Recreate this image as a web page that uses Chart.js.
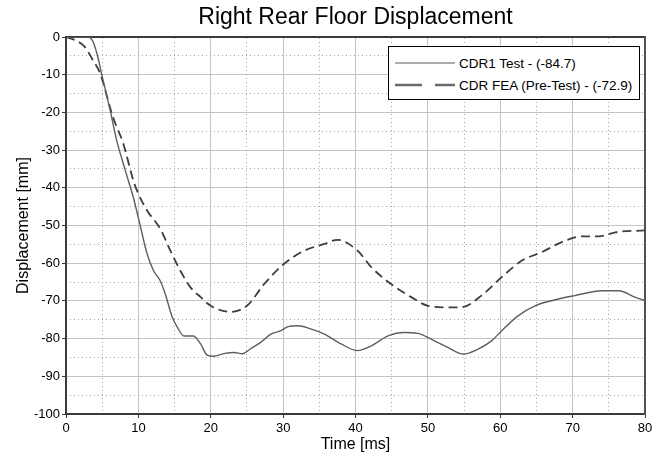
<!DOCTYPE html>
<html>
<head>
<meta charset="utf-8">
<script src="https://cdn.jsdelivr.net/npm/chart.js@4"></script>
<style>
    body { margin: 0; background: #fff; }
    #wrap { position: relative; width: 665px; height: 454px; }
    #legend {
        position: absolute; left: 388px; top: 46px; width: 252px; height: 54px;
        box-sizing: border-box; border: 1px solid #000; background: #fff;
        font: 13.5px "Liberation Sans", Arial, sans-serif; color: #000;
    }
    .row { position: absolute; left: 6px; height: 16px; display: flex; align-items: center; white-space: nowrap; }
    .row svg { margin-right: 4px; }
</style>
</head>
<body>
<div id="wrap">
    <canvas id="floorChart" width="665" height="454"></canvas>
    <div id="legend"></div>
</div>
<script>
// ---- Data ----
const testTime = [0, 3.0, 3.4, 3.8, 4.4, 4.9, 6.1, 7.0, 7.9, 8.6, 9.3, 10.3, 11.2, 12.1, 13.0, 13.7, 14.7, 15.4, 16.3, 17.6, 18.6, 19.5, 20.4, 21.8, 23.2, 24.4, 25.5, 26.9, 28.3, 29.7, 30.6, 32.0, 33.8, 35.7, 38.0, 40.3, 42.2, 44.5, 46.7, 48.6, 50.9, 52.8, 54.9, 57.0, 58.8, 60.2, 62.5, 64.8, 67.6, 70.3, 74.1, 76.4, 78.6, 80];
const testDisp = [0, 0, -0.3, -1.5, -5.3, -9.6, -19.4, -27.4, -33.5, -38, -42.5, -50.4, -57.5, -62, -64.6, -68.1, -74.4, -77, -79.3, -79.3, -81.4, -84.4, -84.7, -84, -83.7, -84, -82.7, -81, -78.8, -77.9, -76.9, -76.6, -77.4, -78.8, -81.4, -83.2, -81.9, -79.3, -78.4, -78.6, -80.6, -82.4, -84.1, -82.7, -80.6, -77.9, -73.9, -71.3, -69.7, -68.6, -67.3, -67.3, -69, -69.9];

const feaTime = [0, 1.2, 2.6, 3.7, 4.7, 6.5, 7.9, 9.3, 9.8, 11.2, 13.0, 14.4, 15.8, 17.2, 18.6, 20.0, 22.7, 25.0, 27.4, 30.1, 32.9, 35.7, 37.5, 40.3, 42.2, 44.9, 47.7, 50.0, 52.8, 54.6, 57.4, 60.2, 63.0, 65.7, 68.5, 71.3, 73.6, 75.9, 80];
const feaDisp = [0, -0.8, -2.6, -6.1, -9.6, -21.3, -28.2, -38, -40.7, -46, -50.8, -56.6, -62, -66.4, -69, -71.3, -72.9, -71.3, -65.5, -60.2, -56.7, -54.9, -53.8, -56.7, -61.1, -65.5, -69, -71.3, -71.7, -71.7, -68.6, -63.7, -59.3, -57.1, -54.4, -52.9, -52.9, -51.8, -51.3];

const seriesLabels = ['CDR1 Test - (-84.7)', 'CDR FEA (Pre-Test) - (-72.9)'];

const xTicks = [0, 10, 20, 30, 40, 50, 60, 70, 80];
const yTicks = [0, -10, -20, -30, -40, -50, -60, -70, -80, -90, -100];
const xMinorTicks = [5, 15, 25, 35, 45, 55, 65, 75];
const yMinorTicks = [-5, -15, -25, -35, -45, -55, -65, -75, -85, -95];

const toPoints = (xs, ys) => xs.map((x, i) => ({ x: x, y: ys[i] }));
const setTicks = list => scale => { scale.ticks = list.map(v => ({ value: v })); };

const FONT = '"Liberation Sans", Arial, sans-serif';
const majorGrid = '#c4c4c4';
const axisDark = '#3a3a3a';

const minorAxis = (position, list, min, max) => ({
    type: 'linear', position: position, min: min, max: max,
    afterBuildTicks: setTicks(list),
    ticks: { display: false },
    grid: { color: '#a8a8a8', lineWidth: 1, drawTicks: false, z: -1 },
    border: { display: true, color: position === 'right' ? '#505050' : axisDark, width: 2, dash: [1, 3] }
});

const ctx = document.getElementById('floorChart').getContext('2d');
const floorChart = new Chart(ctx, {
    type: 'line',
    data: {
        datasets: [
            {
                label: seriesLabels[0],
                data: toPoints(testTime, testDisp),
                borderColor: '#5e5e5e', borderWidth: 1.4,
                pointRadius: 0, cubicInterpolationMode: 'monotone'
            },
            {
                label: seriesLabels[1],
                data: toPoints(feaTime, feaDisp),
                borderColor: '#3e3e3e', borderWidth: 1.8, borderDash: [9, 5],
                pointRadius: 0, cubicInterpolationMode: 'monotone'
            }
        ]
    },
    options: {
        responsive: false,
        animation: false,
        events: [],
        layout: { padding: { left: 0, right: 20, top: 0, bottom: 0 } },
        plugins: {
            legend: { display: false },
            tooltip: { enabled: false },
            title: {
                display: true, fullSize: false,
                text: 'Right Rear Floor Displacement',
                color: '#000',
                font: { family: FONT, size: 23, weight: 'normal' },
                padding: { top: 4, bottom: 5.4 }
            }
        },
        scales: {
            x: {
                type: 'linear', position: 'bottom', min: 0, max: 80,
                afterBuildTicks: setTicks(xTicks),
                afterFit: s => { s.height = 40; },
                ticks: { color: '#000', font: { family: FONT, size: 13 }, padding: 3, maxRotation: 0 },
                grid: { color: majorGrid, lineWidth: 1, tickColor: axisDark, tickLength: 4, z: -1 },
                border: { color: axisDark, width: 2 },
                title: { display: true, text: 'Time [ms]', color: '#000', font: { family: FONT, size: 16 }, padding: { top: 0, bottom: 0 } }
            },
            y: {
                type: 'linear', position: 'left', min: -100, max: 0,
                afterBuildTicks: setTicks(yTicks),
                afterFit: s => { s.width = 66; },
                ticks: { color: '#000', font: { family: FONT, size: 13 }, padding: 2 },
                grid: { color: majorGrid, lineWidth: 1, tickColor: axisDark, tickLength: 4, z: -1 },
                border: { color: axisDark, width: 2 },
                title: { display: true, text: 'Displacement [mm]', color: '#000', font: { family: FONT, size: 16 }, padding: { top: 14, bottom: 0 } }
            },
            xMinor: minorAxis('top', xMinorTicks, 0, 80),
            yMinor: minorAxis('right', yMinorTicks, -100, 0)
        }
    }
});

// ---- Legend box (inside plot, top right) ----
const legendEl = document.getElementById('legend');
legendEl.innerHTML = floorChart.data.datasets.map((ds, i) => {
    const dashed = ds.borderDash && ds.borderDash.length;
    const stroke = dashed ? '#6a6a6a' : '#5a5a5a';
    const width = dashed ? 2.6 : 1.1;
    const dash = dashed ? 'stroke-dasharray="27 13"' : '';
    return `<div class="row" style="top:${8 + i * 22}px">
        <svg width="60" height="10"><line x1="0" y1="5" x2="60" y2="5" stroke="${stroke}" stroke-width="${width}" ${dash}/></svg>
        <span>${ds.label}</span></div>`;
}).join('');
</script>
</body>
</html>
